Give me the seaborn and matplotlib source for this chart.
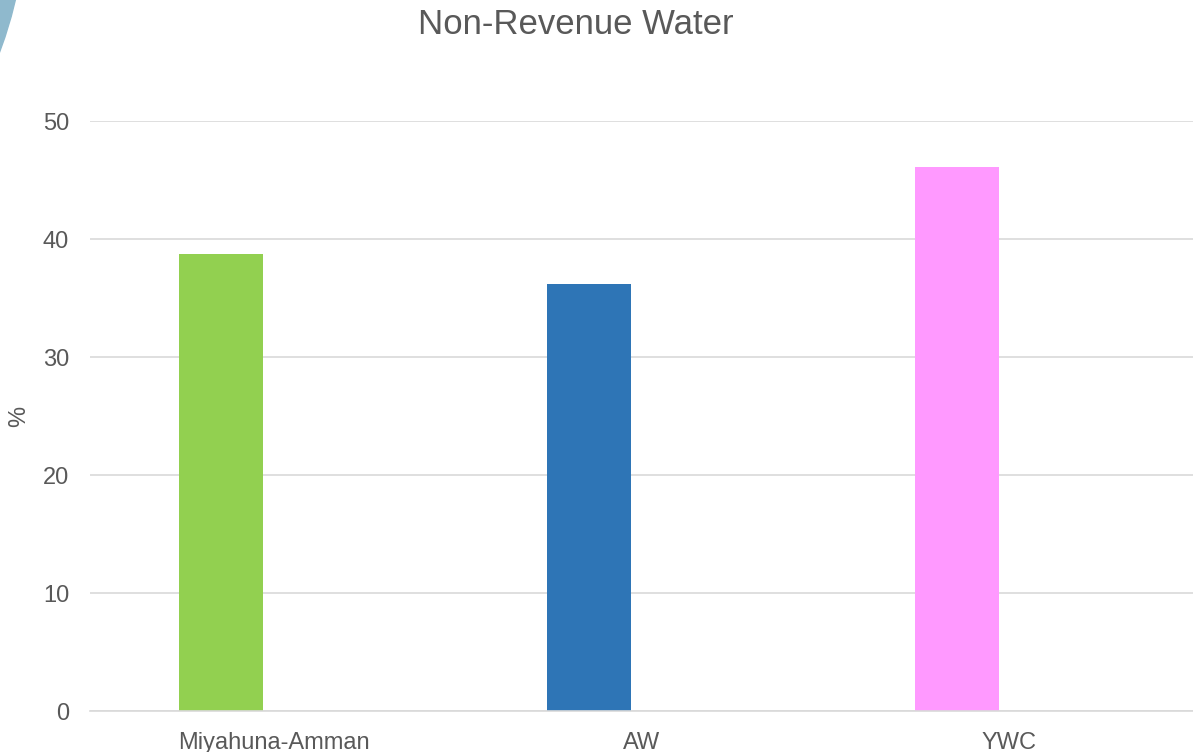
import matplotlib
matplotlib.use("Agg")
import matplotlib.pyplot as plt
import matplotlib.patches as mpatches
import pandas as pd
import seaborn as sns

# Chart data
categories = ["Miyahuna-Amman", "AW", "YWC"]
nrw_values = [38.7, 36.2, 46.1]
blank_values = [0, 0, 0]  # empty second series in the source workbook
bar_colors = ["#92d050", "#2e75b6", "#ff99ff"]
y_ticks = [0, 10, 20, 30, 40, 50]

df = pd.concat([
    pd.DataFrame({"utility": categories, "nrw": nrw_values, "series": "NRW"}),
    pd.DataFrame({"utility": categories, "nrw": blank_values, "series": "blank"}),
])

sns.set_theme(style="white")
plt.rcParams["font.family"] = ["Liberation Sans", "DejaVu Sans"]
text_color = "#595959"

fig = plt.figure(figsize=(11.93, 7.52), dpi=100)
ax = fig.add_axes([90 / 1193, 41 / 752, 1103 / 1193, 590 / 752])

# decorative arc in the top-left corner
fig.patches.append(mpatches.Circle((-4.09, 8.52), 4.36, transform=fig.dpi_scale_trans,
                                   color="#8fb9cd", zorder=0))

# second (empty) hue level keeps the bars shifted left like the Excel original
sns.barplot(data=df, x="utility", y="nrw", hue="series", hue_order=["NRW", "blank"],
            order=categories, width=0.571, gap=0.2, legend=False, ax=ax,
            saturation=1, linewidth=0)
for bar, c in zip(ax.containers[0], bar_colors):
    bar.set_facecolor(c)

ax.set_ylim(0, 50)
ax.set_yticks(y_ticks)
ax.set_xlim(-0.5, 2.5)
ax.yaxis.grid(True, color="#d9d9d9", linewidth=1.2)
ax.set_axisbelow(True)
for side in ["top", "right", "left"]:
    ax.spines[side].set_visible(False)
ax.spines["bottom"].set_color("#d9d9d9")
ax.spines["bottom"].set_linewidth(1.2)
ax.tick_params(axis="y", length=0, pad=15, labelsize=17, labelcolor=text_color)
ax.tick_params(axis="x", length=0, pad=15, labelsize=17, labelcolor=text_color)
ax.set_xlabel("")
ax.set_ylabel("%", fontsize=17, color=text_color)
ax.yaxis.set_label_coords(-60 / 1103, 0.5)

fig.text(575.5 / 1193, 1 - 34 / 752, "Non-Revenue Water", ha="center", va="baseline",
         fontsize=25, color=text_color)

fig.savefig("out.png", dpi=100)
